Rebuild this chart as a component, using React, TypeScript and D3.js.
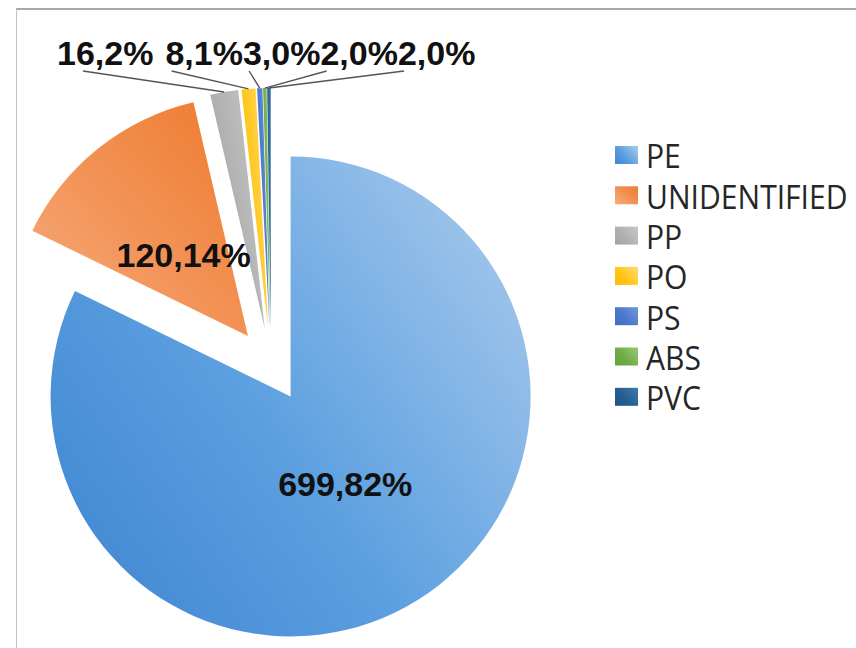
import { useEffect, useRef } from 'react';
import * as d3 from 'd3';

const categories = ['PE', 'UNIDENTIFIED', 'PP', 'PO', 'PS', 'ABS', 'PVC'];
const counts = [699, 120, 16, 8, 3, 2, 2];
const percents = [82, 14, 2, 1, 0, 0, 0];

const palette = [
  ['#3d84cf', '#5b9fe0', '#9cc3ea'],
  ['#ee7a2c', '#f29154', '#f6ae7e'],
  ['#a3a3a3', '#b0b0b0', '#c4c4c4'],
  ['#f9bc00', '#ffc61a', '#ffd75e'],
  ['#3f6cc0', '#4a79cb', '#6b92d6'],
  ['#63a23c', '#70ad47', '#8fc46c'],
  ['#1f5689', '#255e91', '#3b75a8'],
];

const W = 856;
const H = 648;

export default function App() {
  const svgRef = useRef<SVGSVGElement>(null);

  useEffect(() => {
    if (!svgRef.current) return;
    const svg = d3.select(svgRef.current);
    svg.selectAll('*').remove();

    const data = categories.map((c, i) => ({ c, i, v: counts[i] }));

    // frame (top + left edge like the cropped original)
    svg.append('line').attr('x1', 16).attr('y1', 9).attr('x2', W).attr('y2', 9)
      .attr('stroke', '#a8a8a8').attr('stroke-width', 2);
    svg.append('line').attr('x1', 16.5).attr('y1', 9).attr('x2', 16.5).attr('y2', H)
      .attr('stroke', '#c4c4c4').attr('stroke-width', 1);

    const defs = svg.append('defs');
    palette.forEach((p, i) => {
      const g = defs.append('linearGradient').attr('id', `grad-${i}`)
        .attr('x1', i === 1 ? 1 : 0).attr('y1', i === 1 ? 0 : 1)
        .attr('x2', i === 1 ? 0 : 1).attr('y2', i === 1 ? 1 : 0.3);
      g.append('stop').attr('offset', '0%').attr('stop-color', p[0]);
      g.append('stop').attr('offset', '50%').attr('stop-color', p[1]);
      g.append('stop').attr('offset', '100%').attr('stop-color', p[2]);
    });

    const cx = 271;
    const cy = 365;
    const radius = 240;
    const explode = 37;

    const pie = d3.pie<typeof data[0]>().value(d => d.v).sort(null);
    const arcs = pie(data);
    const arc = d3.arc<d3.PieArcDatum<typeof data[0]>>().innerRadius(0).outerRadius(radius);

    const mid = (a: d3.PieArcDatum<typeof data[0]>) => (a.startAngle + a.endAngle) / 2;
    const apex = (a: d3.PieArcDatum<typeof data[0]>) => {
      const m = mid(a);
      return [cx + explode * Math.sin(m), cy - explode * Math.cos(m)];
    };

    const g = svg.append('g');
    arcs.forEach(a => {
      const [ax, ay] = apex(a);
      g.append('path')
        .attr('transform', `translate(${ax},${ay})`)
        .attr('d', arc(a) as string)
        .attr('fill', `url(#grad-${a.data.i})`);
    });

    const labelText = (i: number) => `${counts[i]},${percents[i]}%`;
    const font = '"Liberation Sans", Arial, sans-serif';

    // inside labels for the big slices
    arcs.filter(a => a.endAngle - a.startAngle > 0.5).forEach(a => {
      const [ax, ay] = apex(a);
      const m = mid(a);
      const rho = radius * 0.43;
      svg.append('text')
        .attr('x', ax + rho * Math.sin(m))
        .attr('y', ay - rho * Math.cos(m))
        .attr('text-anchor', 'middle')
        .attr('dominant-baseline', 'central')
        .attr('font-family', font)
        .attr('font-weight', 'bold')
        .attr('font-size', 34)
        .attr('fill', '#111')
        .text(labelText(a.data.i));
    });

    // small slices: labels in a row above the pie with leader lines
    const small = arcs.filter(a => a.endAngle - a.startAngle <= 0.5);
    let x = 57;
    const baseY = 65;
    small.forEach((a, k) => {
      const t = svg.append('text')
        .attr('x', x)
        .attr('y', baseY)
        .attr('font-family', font)
        .attr('font-weight', 'bold')
        .attr('font-size', 34)
        .attr('fill', '#111')
        .text(labelText(a.data.i));
      const w = (t.node() as SVGTextElement).getComputedTextLength();
      const [ax, ay] = apex(a);
      const m = mid(a);
      const tx = ax + radius * Math.sin(m);
      const ty = ay - radius * Math.cos(m);
      svg.append('line')
        .attr('x1', x + w * (k === 0 ? 0.27 : 0.08))
        .attr('y1', baseY + 6)
        .attr('x2', tx)
        .attr('y2', ty)
        .attr('stroke', '#555')
        .attr('stroke-width', 1.4);
      x += w + (k === 0 ? 12 : 0);
    });

    // legend
    const leg = svg.append('g').attr('transform', 'translate(615,155)');
    categories.forEach((c, i) => {
      const row = leg.append('g').attr('transform', `translate(0,${i * 40.3})`);
      row.append('rect').attr('x', 0).attr('y', -9).attr('width', 23).attr('height', 18)
        .attr('fill', `url(#grad-${i})`);
      row.append('text')
        .attr('transform', 'translate(31,1) scale(0.94,1)')
        .attr('dominant-baseline', 'central')
        .attr('font-family', '"Open Sans", "Noto Sans", sans-serif')
        .attr('font-size', 32)
        .attr('fill', '#262626')
        .text(c);
    });
  }, []);

  return (
    <svg
      ref={svgRef}
      width={W}
      height={H}
      style={{ position: 'absolute', left: 0, top: 0, background: '#fff' }}
    />
  );
}
